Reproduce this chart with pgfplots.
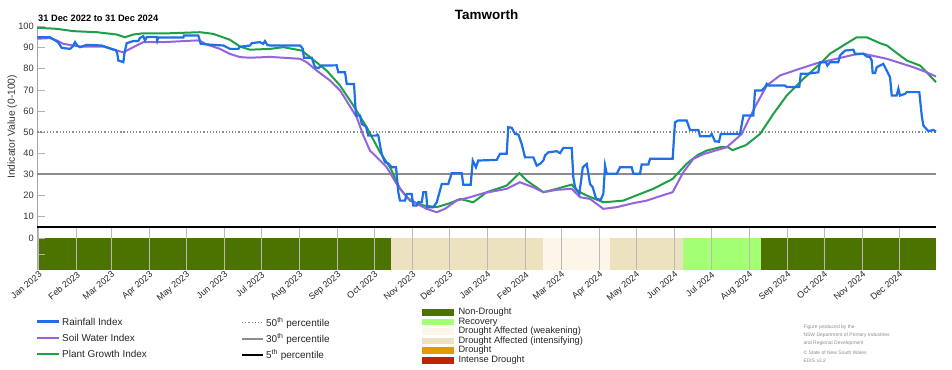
\documentclass[border=0pt]{standalone}
\usepackage{pgfplots}
\pgfplotsset{compat=1.18}
\usepackage{fontspec}
\setmainfont{Liberation Sans}
\definecolor{rainc}{RGB}{31,111,230}
\definecolor{soilc}{RGB}{147,100,222}
\definecolor{plantc}{RGB}{30,158,70}
\definecolor{nondr}{RGB}{76,115,0}
\definecolor{recov}{RGB}{163,255,115}
\definecolor{weak}{RGB}{253,245,232}
\definecolor{inten}{RGB}{237,226,192}
\definecolor{drght}{RGB}{230,152,0}
\definecolor{intdr}{RGB}{190,35,0}
\definecolor{pgray}{RGB}{140,140,140}
\begin{document}
\begin{tikzpicture}
\useasboundingbox (0,0) rectangle (952bp,370bp);
% ---------- upper panel ----------
\begin{axis}[
  at={(37.3bp,143bp)}, anchor=south west,
  width=898.7bp, height=200.5bp, scale only axis,
  xmin=-1, xmax=730, ymin=5, ymax=100,
  axis x line=none, axis y line*=left,
  y axis line style={gray!70, line width=0.8bp, -},
  ytick={10,20,...,100},
  tick align=inside, major tick length=8bp,
  ytick style={gray!60, line width=0.6bp},
  /pgf/number format/assume math mode=true,
  yticklabel style={font=\fontsize{9.3}{10}\selectfont, text=black!80},
  ylabel={Indicator Value (0-100)},
  ylabel style={font=\fontsize{10.3}{12}\selectfont, text=black!80, at={(axis description cs:0,0.5)}, anchor=center, yshift=25bp},
  clip=false,
]
\addplot[pgray, line width=1.2bp, dotted] coordinates {(-1,50) (730,50)};
\addplot[pgray, line width=1.8bp] coordinates {(-1,30) (730,30)};
\addplot[black, line width=2.2bp] coordinates {(-1,5) (730,5)};
% Plant Growth Index
\addplot[plantc, line width=2bp] coordinates {
(-1,99.4)(14.8,98.9)(28.3,97.8)(47.3,97.3)(63.6,96.2)(70.3,94.9)(77.1,96.2)(85.2,96.8)(106.9,96.8)(131.3,97.3)(142.2,96.5)(155.7,93.7)(163.9,90.5)(172,89)(188.3,89.4)(199.1,90.2)(214.1,88.6)(220.8,85.5)(234.4,79.1)(245.3,72)(256,62.6)(266.9,52.3)(277.8,40.4)(285.9,33.3)(294,23.1)(302.1,17.5)(313,15.2)(323.9,14.4)(334.7,16.3)(342.9,18.3)(353.6,16.7)(364.5,21.5)(367.2,22)(380.8,24.6)(391.1,30.5)(397.1,27)(410.6,21.5)(421.5,23.1)(433.7,25.1)(437.8,22.3)(445.9,19.9)(459.4,16.7)(475.7,17.5)(483.8,19.4)(500.1,23.1)(515.8,27.8)(527.2,35)(536.4,39.2)(543.5,41.2)(554.3,42.8)(560.8,42.8)(564.5,41.4)(575.4,43.8)(586.9,49.1)(597.7,58.6)(608.6,67.3)(622.1,75.2)(635.6,82.3)(643.8,87.1)(654.6,91)(665.5,94.9)(673.6,94.9)(684.4,92.1)(690,91)(706.2,83.9)(717,81.5)(722.4,78.3)(730,73.6)};
% Soil Water Index
\addplot[soilc, line width=2bp] coordinates {
(-1,94.2)(9.3,94.5)(14.8,93.4)(20.1,91.8)(28.3,91)(33.7,90.5)(52.7,90.5)(60.8,89)(69,87.8)(77.1,90.2)(85.2,92.6)(101.5,92.6)(128.7,93.4)(131.3,93.2)(136.8,91.5)(147.6,89.4)(155.7,87)(163.9,85.5)(172,85.2)(188.3,85.6)(212.7,84.7)(218.1,83.1)(226.3,79.1)(237.1,74.4)(245.3,69.7)(252,63.4)(258.8,57)(264.2,48.3)(269.6,41.2)(276.4,37.3)(283.2,33.3)(291.3,25.4)(299.5,19.1)(307.6,16)(315.7,13.6)(323.9,12)(330.6,13.6)(340.1,17.5)(350.9,19.1)(361.8,21)(375.4,22.5)(380.8,23.1)(391.6,26.2)(402.5,23.8)(410.6,21.5)(421.5,22.6)(433.7,23.1)(440.4,19.1)(448.6,18.3)(459.4,13.6)(470.3,14.4)(483.8,16.3)(494.7,17.5)(505.5,19.6)(515.8,21.5)(524.5,31)(532.6,37.3)(540.7,39.5)(551.6,41.4)(559.8,42.8)(572,49.1)(577.3,55.5)(584.2,63.4)(592.3,72)(603.1,76.8)(616.7,79.5)(633,82.6)(649.2,84.7)(662.8,86.6)(670.9,87.1)(690,84.7)(711.6,80.7)(722.4,78.3)(730,76.3)};
% Rainfall Index
\addplot[rainc, line width=2.2bp] coordinates {
(-1,94.9)(9.3,94.9)(15.8,92.6)(18.8,89.9)(25.6,89.4)(27.8,90.5)(29.7,92.6)(31.5,91.0)(33.7,90.2)(39.2,91.3)(51.4,91.0)(59.5,89.4)(63,88.8)(64.1,87)(64.9,83.9)(69,83.1)(69.8,87)(71.7,92.1)(77.1,93.1)(81.2,93.1)(82.5,94.6)(85.2,95.4)(86.6,93.4)(88,95)(96.1,95)(96.6,93.3)(97.4,94.8)(117.8,94.8)(118.3,95.7)(130,95.7)(131.9,91.8)(136.8,91.5)(150.3,91)(155.7,89.4)(162.5,89.4)(163.9,90.4)(172,91)(173.4,92.1)(180.1,92.6)(182.8,91.8)(184.2,93.1)(186.1,91.2)(188.3,91)(212.7,91)(214.9,89.5)(215.9,85.2)(222.2,85.2)(224.9,80.7)(227.6,80.3)(230.3,81.5)(242.5,81.6)(243.8,78.3)(249.3,78.3)(250.7,72.8)(256.6,72.8)(258.2,57.8)(261.5,57.8)(262.9,53.9)(266.4,52.5)(268.2,48.3)(274.5,48.3)(275.6,48.8)(276.4,48.3)(279.1,39.7)(281.8,35.7)(284.5,35.1)(287.3,33.3)(290.8,33.3)(292.6,21.5)(294,17.5)(298.1,17.5)(299.5,20.7)(303.5,20.7)(304.8,15.2)(307.6,15.2)(308.9,16.7)(311.7,16.7)(313,21.5)(315.2,21.5)(316.2,14.4)(321.1,14.4)(323.9,16.7)(328,25.4)(333.3,25.4)(336.1,30.5)(344.2,30.5)(345.5,25)(351.5,25)(353.2,36.5)(355.8,33.3)(357.7,36.5)(372.7,36.8)(375.4,39.7)(380.8,39.7)(382.1,52.3)(384.9,52)(387.6,49.1)(390.3,48.8)(393,44.4)(395.7,38)(402.5,38)(405.2,34.1)(407.9,34.9)(410.6,36.5)(412,38.9)(414.7,40.4)(421.5,40.9)(424.2,40)(426.9,42.5)(433.7,42.5)(435,28.6)(436.4,23.8)(439.9,20.7)(442.7,33.3)(445.9,34.9)(448.6,25.4)(450.8,23.8)(453.5,18.3)(457.3,17.9)(459.4,20.7)(460.8,34.1)(462.2,30.2)(470.3,30.2)(473,33.3)(482.5,33.3)(483.8,30.2)(489.2,30.2)(490.6,34.6)(496,34.6)(497.4,37.3)(515.8,37.3)(517.7,54.6)(520.4,55.5)(527.2,55.5)(529.9,51)(536.7,51)(538,48)(546.1,48)(547.5,49.1)(550.2,45.6)(553.5,45.4)(554.9,49.1)(570.6,49.1)(573.3,57.8)(581.4,57.8)(582.8,69.7)(588.2,69.7)(590.9,71.3)(592.3,72.8)(593.6,72)(607.2,72)(608.6,71.3)(618.8,71.3)(620,77.6)(625.4,77.6)(634.3,78.3)(635.6,83.1)(640.5,83.1)(641.6,81.5)(643.8,83.1)(650.5,83.1)(651.9,86.3)(656,88.6)(662.8,89)(664.1,87.1)(670.9,87.1)(673.6,85.8)(676.3,85.5)(677.7,83.9)(678.5,77.9)(680.4,77.9)(681.8,80.7)(687.1,82.3)(689.9,79.1)(692.6,76)(694,67.3)(698,67.3)(699.4,70.5)(700.7,67.3)(704.8,68.1)(706.2,68.9)(716.4,68.9)(718.4,57.8)(719.7,53.1)(723.8,50.4)(727.8,51)(730,50.2)};
\end{axis}
% ---------- drought strip ----------
\begin{axis}[
  at={(37.3bp,100bp)}, anchor=south west,
  width=898.7bp, height=42bp, scale only axis,
  xmin=-1, xmax=730, ymin=-2, ymax=0.625,
  axis lines*=left,
  x axis line style={draw=none},
  y axis line style={gray!70, line width=0.8bp, -},
  xtick={0,31,59,90,120,151,181,212,243,273,304,334,365,396,425,456,486,517,547,578,609,639,670,700},
  xticklabels={Jan 2023,Feb 2023,Mar 2023,Apr 2023,May 2023,Jun 2023,Jul 2023,Aug 2023,Sep 2023,Oct 2023,Nov 2023,Dec 2023,Jan 2024,Feb 2024,Mar 2024,Apr 2024,May 2024,Jun 2024,Jul 2024,Aug 2024,Sep 2024,Oct 2024,Nov 2024,Dec 2024},
  xtick style={draw=none},
  xmajorgrids, grid style={gray!55, line width=0.8bp},
  xticklabel style={font=\fontsize{9}{10}\selectfont, text=black!85, rotate=40, anchor=north east, inner sep=0.5pt},
  ytick={-1,0}, yticklabels={,0},
  tick align=inside, major tick length=8bp,
  ytick style={gray!60, line width=0.6bp},
  yticklabel style={font=\fontsize{9.3}{10}\selectfont, text=black!80},
  axis on top,
]
\addplot[fill=nondr, draw=none] coordinates {(-1,-2) (286.5,-2) (286.5,0) (-1,0)} -- cycle;
\addplot[fill=inten, draw=none] coordinates {(286.5,-2) (410.6,-2) (410.6,0) (286.5,0)} -- cycle;
\addplot[fill=weak, draw=none] coordinates {(410.6,-2) (464.8,-2) (464.8,0) (410.6,0)} -- cycle;
\addplot[fill=inten, draw=none] coordinates {(464.8,-2) (524.5,-2) (524.5,0) (464.8,0)} -- cycle;
\addplot[fill=recov, draw=none] coordinates {(524.5,-2) (587.7,-2) (587.7,0) (524.5,0)} -- cycle;
\addplot[fill=nondr, draw=none] coordinates {(587.7,-2) (730,-2) (730,0) (587.7,0)} -- cycle;
\end{axis}
% ---------- titles ----------
\node[font=\bfseries\fontsize{13.5}{15}\selectfont] at (486.6bp,355.5bp) {Tamworth};
\node[font=\bfseries\fontsize{9.3}{10}\selectfont, anchor=west, inner sep=0pt] at (38bp,351.3bp) {31 Dec 2022 to 31 Dec 2024};
% ---------- legends ----------
\begin{scope}[font=\fontsize{10}{11}\selectfont]
\draw[rainc, line width=2.2bp] (37bp,48.5bp) -- (59bp,48.5bp);
\node[anchor=west, inner sep=0pt, text=black!85] at (62bp,48.5bp) {Rainfall Index};
\draw[soilc, line width=2.2bp] (37bp,31.8bp) -- (59bp,31.8bp);
\node[anchor=west, inner sep=0pt, text=black!85] at (62bp,31.8bp) {Soil Water Index};
\draw[plantc, line width=2.2bp] (37bp,15.8bp) -- (59bp,15.8bp);
\node[anchor=west, inner sep=0pt, text=black!85] at (62bp,15.8bp) {Plant Growth Index};
\draw[pgray, line width=1.2bp, dotted] (242bp,47.3bp) -- (263bp,47.3bp);
\node[anchor=west, inner sep=0pt, text=black!85] at (266bp,47.3bp) {50\textsuperscript{th} percentile};
\draw[pgray, line width=1.8bp] (242bp,30.7bp) -- (263bp,30.7bp);
\node[anchor=west, inner sep=0pt, text=black!85] at (266bp,30.7bp) {30\textsuperscript{th} percentile};
\draw[black, line width=2.2bp] (242bp,15bp) -- (263bp,15bp);
\node[anchor=west, inner sep=0pt, text=black!85] at (266bp,15bp) {5\textsuperscript{th} percentile};
\end{scope}
\begin{scope}[font=\fontsize{9.3}{10}\selectfont]
\fill[nondr] (421.7bp,61bp) rectangle (454.3bp,54.3bp);
\node[anchor=west, inner sep=0pt, text=black!85] at (458.3bp,57.7bp) {Non-Drought};
\fill[recov] (421.7bp,51.3bp) rectangle (454.3bp,44.7bp);
\node[anchor=west, inner sep=0pt, text=black!85] at (458.3bp,48bp) {Recovery};
\fill[weak] (421.7bp,41.7bp) rectangle (454.3bp,35bp);
\node[anchor=west, inner sep=0pt, text=black!85] at (458.3bp,38.4bp) {Drought Affected (weakening)};
\fill[inten] (421.7bp,32.3bp) rectangle (454.3bp,25.7bp);
\node[anchor=west, inner sep=0pt, text=black!85] at (458.3bp,29bp) {Drought Affected (intensifying)};
\fill[drght] (421.7bp,23bp) rectangle (454.3bp,16bp);
\node[anchor=west, inner sep=0pt, text=black!85] at (458.3bp,19.5bp) {Drought};
\fill[intdr] (421.7bp,13.3bp) rectangle (454.3bp,6.3bp);
\node[anchor=west, inner sep=0pt, text=black!85] at (458.3bp,9.8bp) {Intense Drought};
\end{scope}
\begin{scope}[font=\fontsize{5}{6}\selectfont, text=black!45]
\node[anchor=west, inner sep=0pt] at (803.3bp,42.7bp) {Figure produced by the};
\node[anchor=west, inner sep=0pt] at (803.3bp,35bp) {NSW Department of Primary Industries};
\node[anchor=west, inner sep=0pt] at (803.3bp,26.7bp) {and Regional Development};
\node[anchor=west, inner sep=0pt] at (803.3bp,17.7bp) {© State of New South Wales};
\node[anchor=west, inner sep=0pt] at (803.3bp,9bp) {EDIS v2.2};
\end{scope}
\end{tikzpicture}
\end{document}
